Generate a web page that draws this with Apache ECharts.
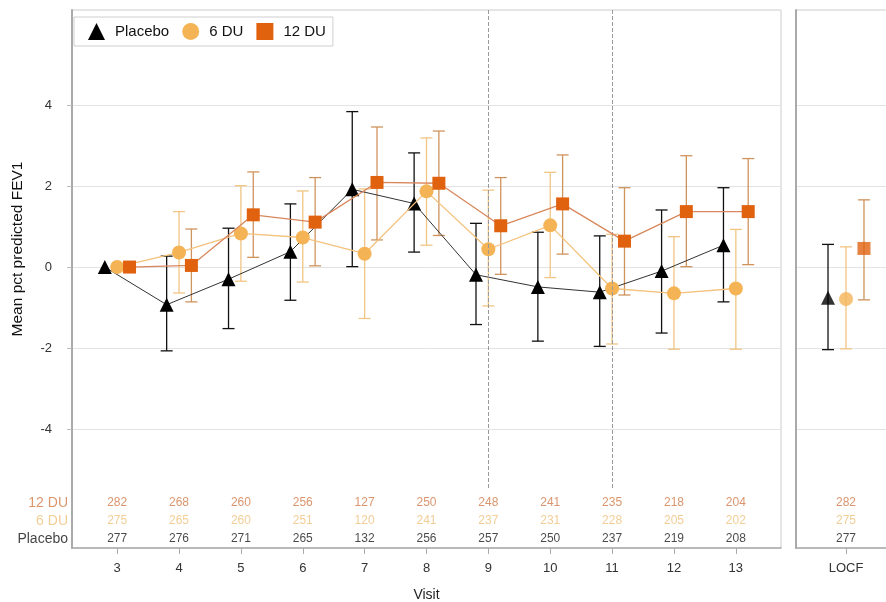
<!DOCTYPE html>
<html>
<head>
<meta charset="utf-8">
<script src="https://cdn.jsdelivr.net/npm/echarts@6/dist/echarts.min.js"></script>
<style>
  html, body { margin: 0; padding: 0; background: #fff; }
  #chart { width: 886px; height: 602px; }
</style>
</head>
<body>
<div id="chart"></div>
<script>
// visits and group means / 95% CI
const visits = [3, 4, 5, 6, 7, 8, 9, 10, 11, 12, 13];

const placeboMean = [0, -0.93, -0.30, 0.38, 1.92, 1.57, -0.19, -0.49, -0.62, -0.10, 0.54];
const placeboLow  = [null, -2.07, -1.52, -0.82, 0.01, 0.37, -1.42, -1.83, -1.96, -1.63, -0.86];
const placeboHigh = [null, 0.27, 0.96, 1.56, 3.84, 2.82, 1.08, 0.86, 0.77, 1.41, 1.96];

const du6Mean = [0, 0.36, 0.83, 0.73, 0.33, 1.87, 0.44, 1.03, -0.53, -0.65, -0.53];
const du6Low  = [null, -0.64, -0.35, -0.37, -1.27, 0.54, -0.96, -0.26, -1.90, -2.03, -2.03];
const du6High = [null, 1.37, 2.01, 1.88, 1.93, 3.19, 1.90, 2.34, 0.81, 0.75, 0.93];

const du12Mean = [0, 0.04, 1.29, 1.11, 2.09, 2.07, 1.02, 1.56, 0.64, 1.37, 1.37];
const du12Low  = [null, -0.86, 0.24, 0.03, 0.67, 0.78, -0.18, 0.32, -0.69, 0.01, 0.06];
const du12High = [null, 0.94, 2.35, 2.21, 3.46, 3.36, 2.21, 2.77, 1.96, 2.75, 2.68];

// numbers of patients per visit
const placeboN = [277, 276, 271, 265, 132, 256, 257, 250, 237, 219, 208];
const du6N     = [275, 265, 260, 251, 120, 241, 237, 231, 228, 205, 202];
const du12N    = [282, 268, 260, 256, 127, 250, 248, 241, 235, 218, 204];

// LOCF panel: placebo, 6 DU, 12 DU
const locfMean = [-0.76, -0.79, 0.46];
const locfLow  = [-2.04, -2.02, -0.81];
const locfHigh = [0.56, 0.50, 1.66];
const locfN    = [277, 275, 282];

const groupNames = ['Placebo', '6 DU', '12 DU'];
const yTicks = [-4, -2, 0, 2, 4];
const splitVisits = [9, 11];

// layout
const FONT = 'Liberation Sans, Arial, sans-serif';
const Y_MIN = -6.94, Y_MAX = 6.35;
const DODGE = 0.2;
const ROW_Y = [-6.72, -6.27, -5.83]; // placebo, 6 DU, 12 DU count rows
const colors = {
  marker: ['#000000', '#f4b456', '#e0620f'],
  line:   ['#333333', '#f4c27c', '#d9875c'],
  bar:    ['#111111', '#f1c584', '#cf935c'],
  count:  ['#1a1a1a', '#efc07c', '#d27a48']
};
const symbols = ['triangle', 'circle', 'rect'];
const symbolSizes = [14, 14, 13];

const groups = [
  { mean: placeboMean, low: placeboLow, high: placeboHigh, n: placeboN },
  { mean: du6Mean, low: du6Low, high: du6High, n: du6N },
  { mean: du12Mean, low: du12Low, high: du12High, n: du12N }
];

function errorBar(color) {
  return function (params, api) {
    const x = api.value(0);
    const lo = api.coord([x, api.value(1)]);
    const hi = api.coord([x, api.value(2)]);
    const h = 6;
    const style = { stroke: color, lineWidth: 1.3 };
    return {
      type: 'group',
      children: [
        { type: 'line', shape: { x1: hi[0], y1: hi[1], x2: lo[0], y2: lo[1] }, style: style },
        { type: 'line', shape: { x1: hi[0] - h, y1: hi[1], x2: hi[0] + h, y2: hi[1] }, style: style },
        { type: 'line', shape: { x1: lo[0] - h, y1: lo[1], x2: lo[0] + h, y2: lo[1] }, style: style }
      ]
    };
  };
}

const series = [];

groups.forEach(function (g, i) {
  const off = (i - 1) * DODGE;
  const bars = [];
  visits.forEach(function (v, k) {
    if (g.low[k] != null) bars.push([v + off, g.low[k], g.high[k]]);
  });
  series.push({
    type: 'custom', xAxisIndex: 0, yAxisIndex: 0, z: 2,
    renderItem: errorBar(colors.bar[i]),
    encode: { x: 0, y: [1, 2] },
    data: bars
  });
  series.push({
    type: 'custom', xAxisIndex: 1, yAxisIndex: 1, z: 2,
    renderItem: errorBar(colors.bar[i]),
    encode: { x: 0, y: [1, 2] },
    data: [[off, locfLow[i], locfHigh[i]]]
  });
});

groups.forEach(function (g, i) {
  const off = (i - 1) * DODGE;
  series.push({
    name: groupNames[i],
    type: 'line', xAxisIndex: 0, yAxisIndex: 0, z: 3 + i,
    symbol: symbols[i], symbolSize: symbolSizes[i],
    itemStyle: { color: colors.marker[i] },
    lineStyle: { color: colors.line[i], width: i === 0 ? 1 : 1.3 },
    data: visits.map(function (v, k) { return [v + off, g.mean[k]]; })
  });
  series.push({
    name: groupNames[i],
    type: 'scatter', xAxisIndex: 1, yAxisIndex: 1, z: 3 + i,
    symbol: symbols[i], symbolSize: symbolSizes[i],
    itemStyle: { color: colors.marker[i] },
    data: [[off, locfMean[i]]]
  });
  // count rows
  series.push({
    type: 'scatter', xAxisIndex: 0, yAxisIndex: 0, symbolSize: 0, silent: true,
    label: {
      show: true, position: 'inside', fontFamily: FONT, fontSize: 12, color: colors.count[i],
      formatter: function (p) { return p.value[2]; }
    },
    data: visits.map(function (v, k) { return [v, ROW_Y[i], g.n[k]]; })
  });
  series.push({
    type: 'scatter', xAxisIndex: 1, yAxisIndex: 1, symbolSize: 0, silent: true,
    label: {
      show: true, position: 'inside', fontFamily: FONT, fontSize: 12, color: colors.count[i],
      formatter: function (p) { return p.value[2]; }
    },
    data: [[0, ROW_Y[i], locfN[i]]]
  });
  // row names left of the axis
  series.push({
    type: 'scatter', xAxisIndex: 0, yAxisIndex: 0, symbolSize: 0, silent: true,
    label: {
      show: true, position: 'left', distance: 4, fontFamily: FONT, fontSize: 14,
      color: i === 0 ? '#111' : colors.count[i],
      formatter: groupNames[i]
    },
    data: [[2.27, ROW_Y[i]]]
  });
});

// dashed separators
series.push({
  type: 'line', xAxisIndex: 0, yAxisIndex: 0, data: [], silent: true,
  markLine: {
    symbol: 'none', silent: true, label: { show: false },
    lineStyle: { color: '#9a9a9a', type: 'dashed', width: 1 },
    data: splitVisits.map(function (v) { return [{ coord: [v, Y_MAX] }, { coord: [v, -5.5] }]; })
  }
});

const chart = echarts.init(document.getElementById('chart'));
chart.setOption({
  animation: false,
  backgroundColor: '#fff',
  textStyle: { fontFamily: FONT },
  legend: {
    left: 74, top: 17,
    data: groupNames.map(function (n, i) { return { name: n, icon: symbols[i] }; }),
    itemWidth: 17, itemHeight: 17, itemGap: 13,
    padding: [6, 7, 6, 14],
    borderColor: '#cfcfcf', borderWidth: 1, borderRadius: 0,
    backgroundColor: '#fff',
    textStyle: { fontFamily: FONT, fontSize: 15, color: '#111', padding: [0, 0, 0, 5] }
  },
  grid: [
    { left: 72, right: 105, top: 10, bottom: 54, outerBoundsMode: 'none',
      show: true, borderColor: '#cccccc', borderWidth: 1 },
    { left: 796, right: -10, top: 10, bottom: 54, outerBoundsMode: 'none',
      show: true, borderColor: '#cccccc', borderWidth: 1 }
  ],
  xAxis: [
    {
      type: 'value', gridIndex: 0, min: 2.27, max: 13.73,
      name: 'Visit', nameLocation: 'middle', nameGap: 40,
      nameTextStyle: { fontFamily: FONT, fontSize: 14, color: '#222' },
      axisLine: { show: true, onZero: false, lineStyle: { color: '#aaaaaa', width: 1.5 } },
      axisTick: { show: true, length: 6, customValues: visits, lineStyle: { color: '#aaaaaa' } },
      axisLabel: { customValues: visits, margin: 14, fontFamily: FONT, fontSize: 13, color: '#333' },
      splitLine: { show: false }
    },
    {
      type: 'value', gridIndex: 1, min: -0.556, max: 0.556,
      axisLine: { show: true, onZero: false, lineStyle: { color: '#aaaaaa', width: 1.5 } },
      axisTick: { show: true, length: 6, customValues: [0], lineStyle: { color: '#aaaaaa' } },
      axisLabel: { customValues: [0], margin: 14, fontFamily: FONT, fontSize: 13, color: '#333',
        formatter: function () { return 'LOCF'; } },
      splitLine: { show: false }
    }
  ],
  yAxis: [
    {
      type: 'value', gridIndex: 0, min: Y_MIN, max: Y_MAX,
      axisLine: { show: true, onZero: false, lineStyle: { color: '#aaaaaa', width: 2 } },
      axisTick: { show: true, length: 5, customValues: yTicks, lineStyle: { color: '#bbbbbb' } },
      axisLabel: { customValues: yTicks, margin: 20, fontFamily: FONT, fontSize: 13, color: '#333' },
      splitLine: { show: true, lineStyle: { color: '#e3e3e3', width: 1 } }
    },
    {
      type: 'value', gridIndex: 1, min: Y_MIN, max: Y_MAX,
      axisLine: { show: true, onZero: false, lineStyle: { color: '#aaaaaa', width: 2 } },
      axisTick: { show: false, customValues: yTicks },
      axisLabel: { show: false, customValues: yTicks },
      splitLine: { show: true, lineStyle: { color: '#e3e3e3', width: 1 } }
    }
  ],
  graphic: [
    {
      type: 'text', x: 18, y: 249, rotation: Math.PI / 2,
      style: { text: 'Mean pct predicted FEV1', fontFamily: FONT, fontSize: 15.5, fill: '#111',
        align: 'center', verticalAlign: 'middle' }
    }
  ],
  series: series
});
</script>
</body>
</html>
